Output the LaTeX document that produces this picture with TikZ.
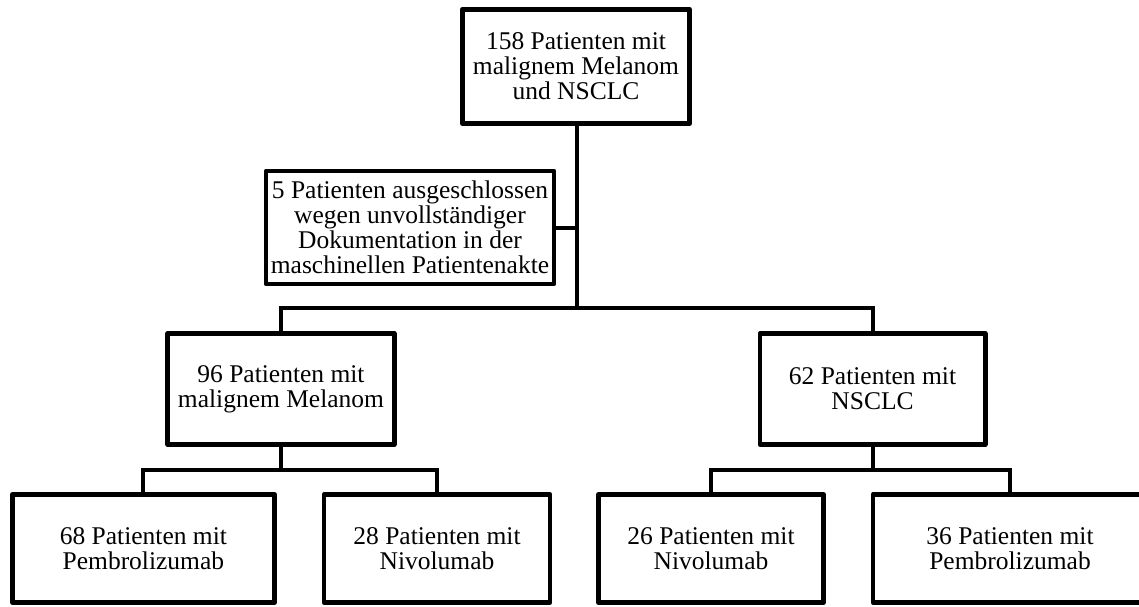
\documentclass[tikz,border=0pt]{standalone}
\usepackage{fontspec}
\setmainfont{Liberation Serif}
\begin{document}
\begin{tikzpicture}[x=1pt,y=-1pt,
  box/.style={draw=black,line width=4.6pt,rectangle,inner sep=0pt,align=center,
    font=\fontsize{25.5}{25}\selectfont,line join=round},
  lbl/.style={inner sep=0pt,align=center,font=\fontsize{25.5}{25}\selectfont},
  conn/.style={draw=black,line width=4pt,line join=miter}]
\useasboundingbox (0,0) rectangle (1139,606);
\clip (0,0) rectangle (1139,606);
\node[box,line width=5.2pt,minimum width=227pt,minimum height=114pt] (top) at (576,66.5)
  {158 Patienten mit\\malignem Melanom\\und NSCLC};
\node[box,minimum width=288pt,minimum height=113pt] (excl) at (410,227.5)
  {5 Patienten ausgeschlossen\\wegen unvollständiger\\Dokumentation in der\\maschinellen Patientenakte};
\node[box,minimum width=226.5pt,minimum height=111pt] (mel) at (281,389)
  {96 Patienten mit\\malignem Melanom};
\node[box,minimum width=225.4pt,minimum height=111pt] (nsc) at (872.5,389)
  {62 Patienten mit\\NSCLC};
\node[box,minimum width=262pt,minimum height=108pt] (b68) at (143.4,548.5)
  {68 Patienten mit\\Pembrolizumab};
\node[box,minimum width=226pt,minimum height=108pt] (b28) at (437,548.5)
  {28 Patienten mit\\Nivolumab};
\node[box,minimum width=225.4pt,minimum height=108pt] (b26) at (711,548.5)
  {26 Patienten mit\\Nivolumab};
\node[box,minimum width=287.2pt,minimum height=108pt] (b36) at (1016.4,548.5) {};
\node[lbl] (t36) at (1010,548.5) {36 Patienten mit\\Pembrolizumab};
\coordinate (bar1) at (577,308);
\coordinate (bar2) at (281,470);
\coordinate (bar3) at (872.5,470);
\draw[conn] (top.south -| bar1) -- (bar1);
\draw[conn] (excl.east) -- (excl.east -| bar1);
\draw[conn] (mel.north) |- (bar1) -| (nsc.north);
\draw[conn] (mel.south) -- (bar2);
\draw[conn] (b68.north) |- (bar2) -| (b28.north);
\draw[conn] (nsc.south) -- (bar3);
\draw[conn] (b26.north) |- (bar3) -| (t36 |- b36.north);
\end{tikzpicture}
\end{document}
